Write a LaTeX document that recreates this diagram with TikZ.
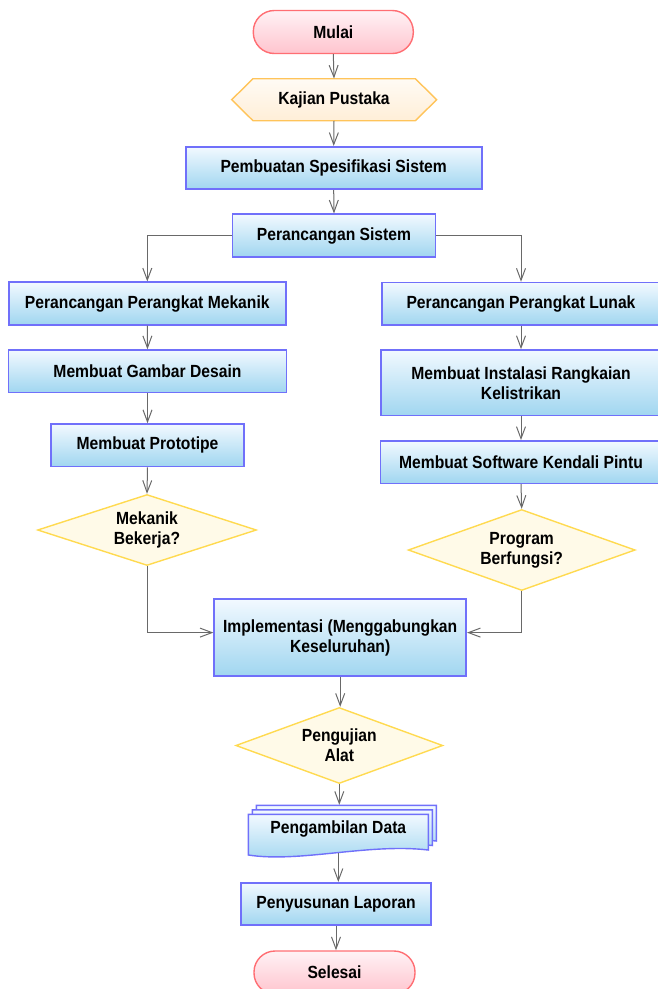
\documentclass[tikz,border=0pt]{standalone}
\usepackage{fontspec}
\setmainfont{Liberation Sans}[FakeStretch=0.89]
\usetikzlibrary{arrows.meta,shapes.geometric,calc}
\definecolor{procb}{RGB}{112,112,250}
\definecolor{proct}{RGB}{242,249,255}
\definecolor{procd}{RGB}{160,214,240}
\definecolor{termb}{RGB}{255,110,115}
\definecolor{termt}{RGB}{255,242,245}
\definecolor{termd}{RGB}{255,196,206}
\definecolor{hexb}{RGB}{255,196,90}
\definecolor{hext}{RGB}{255,251,245}
\definecolor{hexd}{RGB}{255,238,215}
\definecolor{decb}{RGB}{255,218,80}
\definecolor{decf}{RGB}{255,250,232}
\definecolor{arrc}{RGB}{105,105,105}
\begin{document}
\begin{tikzpicture}[x=1pt,y=-1pt,
 base/.style={font=\bfseries\fontsize{17.6}{20}\selectfont, align=center, inner sep=0pt, text=black},
 proc/.style={base, rectangle, draw=procb, line width=1.6pt, top color=proct, bottom color=procd, minimum height=42.5pt},
 term/.style={base, rectangle, rounded corners=21pt, draw=termb, line width=1.4pt, top color=termt, bottom color=termd, minimum width=160pt, minimum height=43pt},
 dec/.style={base, diamond, draw=decb, line width=1.4pt, fill=decf},
 flow/.style={draw=arrc, line width=1pt, -{Straight Barb[length=12pt,width=9pt]}},
 docpage/.style={draw=procb, line width=1.4pt, top color=proct, bottom color=procd},
 hexshape/.style={draw=hexb, line width=1.4pt, top color=hext, bottom color=hexd},
]
\useasboundingbox (0,0) rectangle (657,989);

% Start
\node[term] (start) at (333.3,32) {Mulai};

% Hexagon (preparation)
\path[hexshape] (231.7,99.7) -- (253,78.7) -- (415.3,78.7) -- (436.7,99.7) -- (415.3,120.7) -- (253,120.7) -- cycle;
\node[base, minimum width=205pt, minimum height=42pt] (kaj) at (334,99.7) {Kajian Pustaka};

\node[proc, minimum width=296pt] (spes) at (333.7,168) {Pembuatan Spesifikasi Sistem};
\node[proc, minimum width=203pt] (persis) at (334,235.5) {Perancangan Sistem};

% Left column
\node[proc, minimum width=277pt] (mek) at (147.3,303.5) {Perancangan Perangkat Mekanik};
\node[proc, minimum width=278pt] (gambar) at (147.5,371.3) {Membuat Gambar Desain};
\node[proc, minimum width=193pt] (proto) at (147.5,445.3) {Membuat Prototipe};
\node[dec, shape aspect=3, minimum width=219pt, minimum height=71pt] (d1) at (147,530) {Mekanik\\Bekerja?};

% Right column
\node[proc, minimum width=278pt] (lunak) at (521,303.8) {Perancangan Perangkat Lunak};
\node[proc, minimum width=280pt, minimum height=65.7pt] (instal) at (521,382.8) {Membuat Instalasi Rangkaian\\Kelistrikan};
\node[proc, minimum width=281.4pt] (soft) at (521,462.1) {Membuat Software Kendali Pintu};
\node[dec, shape aspect=2.8, minimum width=227pt, minimum height=81pt] (d2) at (521.7,550) {Program\\Berfungsi?};

% Merge
\node[proc, minimum width=252pt, minimum height=77pt] (impl) at (340.2,637.6) {Implementasi (Menggabungkan\\Keseluruhan)};
\node[dec, shape aspect=2.7, minimum width=207pt, minimum height=76pt] (uji) at (339.3,745.5) {Pengujian\\Alat};

% Multi-document
\foreach \d in {8,4,0}{
  \path[docpage, shift={(\d,-1.125*\d)}] (248.3,814.3) -- (428.3,814.3) -- (428.3,850)
     .. controls (368,843) and (300,863) .. (248.3,855) -- cycle;
}
\node[base, minimum width=188pt, minimum height=48pt] (ambil) at (338.3,829) {\raisebox{-2pt}{Pengambilan Data}};

\node[proc, minimum width=190pt] (susun) at (336,904) {Penyusunan Laporan};
\node[term, minimum width=161pt] (end) at (334.5,972.5) {Selesai};

% Connectors
\draw[flow] (start.south) -- (kaj.north);
\draw[flow] (kaj.south) -- (spes.north);
\draw[flow] (spes.south) -- (persis.north);
\draw[flow] (persis.west) -| (mek.north);
\draw[flow] (persis.east) -| (lunak.north);
\draw[flow] (mek.south) -- (gambar.north);
\draw[flow] (gambar.south) -- (proto.north);
\draw[flow] (proto.south) -- (d1.north);
\draw[flow] (lunak.south) -- (instal.north);
\draw[flow] (instal.south) -- (soft.north);
\draw[flow] (soft.south) -- (d2.north);
\draw[flow] (d1.south) |- ([yshift=5pt]impl.west);
\draw[flow] (d2.south) |- ([yshift=5pt]impl.east);
\draw[flow] (impl.south) -- (impl.south |- uji.north);
\draw[flow] (uji.south) -- (uji.south |- ambil.north);
\draw[flow] (ambil.south) -- (ambil.south |- susun.north);
\draw[flow] (susun.south) -- (susun.south |- end.north);
\end{tikzpicture}
\end{document}
